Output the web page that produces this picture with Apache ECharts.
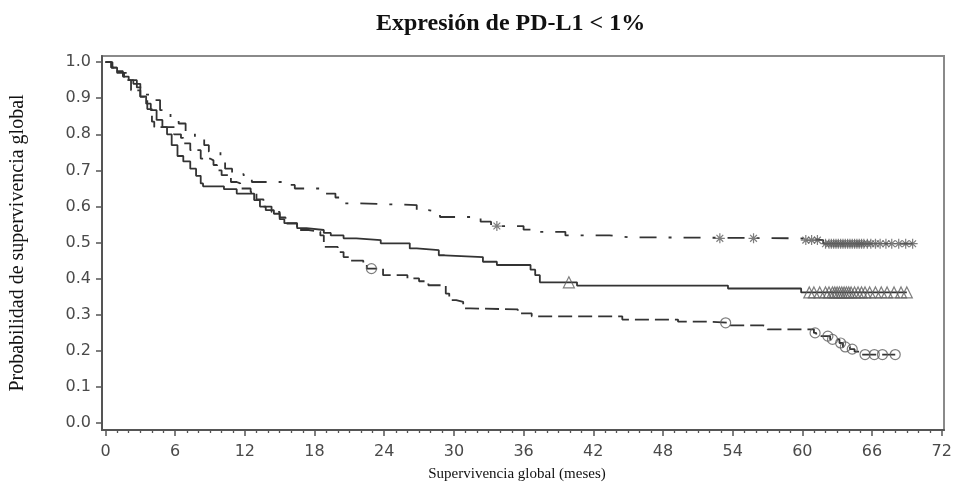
<!DOCTYPE html>
<html>
<head>
<meta charset="utf-8">
<script src="https://cdn.jsdelivr.net/npm/echarts@6/dist/echarts.min.js"></script>
<style>
  html, body { margin: 0; padding: 0; background: #fff; }
  #chart { width: 962px; height: 484px; }
</style>
</head>
<body>
<div id="chart"></div>
<script>
// Axis ticks
const xTickValues = [0, 6, 12, 18, 24, 30, 36, 42, 48, 54, 60, 66, 72];
const xMinorTickValues = [1,2,3,4,5,7,8,9,10,11,13,14,15,16,17,19,20,21,22,23,25,26,27,28,29,31,32,33,34,35,37,38,39,40,41,43,44,45,46,47,49,50,51,52,53,55,56,57,58,59,61,62,63,64,65,67,68,69,70,71];
const yTickValues = [0, 0.1, 0.2, 0.3, 0.4, 0.5, 0.6, 0.7, 0.8, 0.9, 1.0];

// Kaplan-Meier estimates: event times (months) and survival after each event
// Arm A: solid line, triangle censoring marks
const armATimes = [0, 0.5, 1.0, 1.5, 2.0, 2.4, 3.0, 3.5, 3.9, 4.4, 4.9, 5.3, 5.7, 6.2, 6.7, 7.3, 7.8, 8.2, 8.4, 10.2, 11.3, 12.8, 13.3, 13.8, 14.5, 15.0, 15.4, 16.5, 17.3, 18.8, 19.4, 20.5, 21.6, 23.7, 26.2, 26.8, 28.7, 29.2, 32.5, 33.7, 36.6, 37.0, 37.4, 40.6, 53.6, 59.9, 69.0];
const armASurv  = [1.0, 0.985, 0.975, 0.96, 0.95, 0.94, 0.905, 0.885, 0.867, 0.84, 0.82, 0.80, 0.77, 0.74, 0.725, 0.705, 0.685, 0.664, 0.656, 0.648, 0.636, 0.618, 0.60, 0.59, 0.58, 0.565, 0.554, 0.54, 0.535, 0.527, 0.52, 0.512, 0.507, 0.498, 0.484, 0.479, 0.465, 0.46, 0.447, 0.438, 0.425, 0.41, 0.39, 0.381, 0.373, 0.362, 0.362];
const armACensor = [39.9, 60.6, 61.0, 61.5, 62.0, 62.3, 62.6, 62.8, 63.0, 63.2, 63.4, 63.6, 63.8, 64.0, 64.2, 64.5, 64.8, 65.1, 65.4, 65.8, 66.3, 66.8, 67.3, 67.9, 68.5, 69.0];

// Arm B: dashed line, circle censoring marks
const armBTimes = [0, 0.5, 1.0, 1.6, 2.2, 3.0, 3.6, 4.0, 4.2, 5.9, 6.5, 6.7, 7.3, 8.2, 9.0, 9.3, 9.6, 10.0, 10.8, 11.3, 11.6, 12.5, 13.0, 13.6, 14.3, 15.0, 15.5, 16.5, 17.5, 18.5, 18.8, 20.0, 20.5, 21.1, 22.2, 22.5, 23.9, 26.0, 27.0, 27.8, 29.3, 29.6, 30.2, 30.8, 31.4, 35.5, 36.7, 44.5, 49.3, 52.0, 53.8, 56.6, 57.0, 61.0, 61.2, 62.4, 63.2, 63.5, 64.1, 64.5, 65.0, 68.0];
const armBSurv  = [1.0, 0.985, 0.97, 0.95, 0.922, 0.904, 0.87, 0.835, 0.82, 0.80, 0.79, 0.775, 0.756, 0.733, 0.728, 0.715, 0.70, 0.687, 0.668, 0.664, 0.65, 0.64, 0.62, 0.60, 0.585, 0.57, 0.553, 0.535, 0.53, 0.52, 0.488, 0.474, 0.46, 0.45, 0.443, 0.428, 0.41, 0.401, 0.393, 0.382, 0.359, 0.341, 0.336, 0.318, 0.315, 0.304, 0.296, 0.287, 0.281, 0.278, 0.271, 0.267, 0.26, 0.25, 0.241, 0.232, 0.222, 0.211, 0.205, 0.198, 0.19, 0.19];
const armBCensor = [22.9, 53.4, 61.1, 62.2, 62.6, 63.3, 63.7, 64.3, 65.4, 66.2, 66.9, 68.0];

// Arm C: dash-dot line, asterisk censoring marks
const armCTimes = [0, 0.6, 1.2, 2.0, 2.7, 3.3, 4.0, 4.7, 5.6, 6.3, 6.9, 7.7, 8.5, 8.9, 9.9, 10.3, 10.9, 11.9, 12.6, 15.3, 16.3, 18.8, 19.8, 20.5, 21.6, 26.8, 27.8, 28.8, 32.3, 33.2, 36.0, 37.0, 39.6, 43.4, 45.0, 59.8, 61.8, 69.5];
const armCSurv  = [1.0, 0.985, 0.97, 0.95, 0.93, 0.91, 0.895, 0.867, 0.845, 0.83, 0.807, 0.789, 0.77, 0.752, 0.733, 0.705, 0.69, 0.678, 0.668, 0.66, 0.65, 0.636, 0.625, 0.609, 0.604, 0.59, 0.585, 0.571, 0.558, 0.546, 0.536, 0.53, 0.52, 0.515, 0.512, 0.507, 0.497, 0.497];
const armCCensor = [33.7, 52.9, 55.8, 60.3, 60.8, 61.3, 62.0, 62.3, 62.5, 62.7, 62.9, 63.1, 63.3, 63.5, 63.7, 63.9, 64.1, 64.3, 64.5, 64.7, 64.9, 65.1, 65.3, 65.6, 65.9, 66.3, 66.7, 67.2, 67.7, 68.3, 68.9, 69.5];

const lineColor = '#333';
const markColor = '#5e5e5e';
const asteriskPath = 'path://M5,0L5,10M0,5L10,5M1.6,1.6L8.4,8.4M8.4,1.6L1.6,8.4';

function pairs(times, surv) {
  return times.map((t, i) => [t, surv[i]]);
}
// survival level in effect at time t (step function)
function survivalAt(times, surv, t) {
  let s = surv[0];
  for (let i = 0; i < times.length; i++) {
    if (times[i] <= t) s = surv[i]; else break;
  }
  return s;
}
function censorPoints(times, surv, censor) {
  return censor.map(t => [t, survivalAt(times, surv, t)]);
}

function curve(name, times, surv, dash) {
  return {
    name: name, type: 'line', step: 'end', showSymbol: false, symbol: 'none',
    xAxisIndex: 0, yAxisIndex: 0,
    data: pairs(times, surv),
    lineStyle: { color: lineColor, width: 1.8, type: dash },
    z: 3, silent: true
  };
}
function marks(name, times, surv, censor, symbol, size) {
  return {
    name: name, type: 'scatter', symbol: symbol, symbolSize: size,
    xAxisIndex: 0, yAxisIndex: 0,
    data: censorPoints(times, surv, censor),
    itemStyle: { color: 'rgba(0,0,0,0)', borderColor: markColor, borderWidth: 1.2 },
    z: 4, silent: true
  };
}

const tickFont = { fontFamily: 'DejaVu Sans', fontSize: 16, color: '#4a4a4a' };

const chart = echarts.init(document.getElementById('chart'), null, { renderer: 'canvas' });
chart.setOption({
  animation: false,
  backgroundColor: '#fff',
  title: {
    text: 'Expresión de PD-L1 < 1%',
    left: 371, top: 7,
    textStyle: { fontFamily: 'Liberation Serif', fontWeight: 'bold', fontSize: 24, color: '#111' }
  },
  grid: {
    left: 102, right: 18, top: 56, bottom: 54,
    outerBoundsMode: 'none', containLabel: false,
    show: true, borderColor: '#8a8a8a', borderWidth: 2, backgroundColor: '#fff'
  },
  xAxis: [
    {
      type: 'value', min: -0.3, max: 72.2, position: 'bottom',
      name: 'Supervivencia global (meses)', nameLocation: 'middle', nameGap: 37,
      nameTextStyle: { fontFamily: 'Liberation Serif', fontSize: 15, color: '#111', padding: [0, 12, 0, 0] },
      axisLine: { show: true, onZero: false, lineStyle: { color: '#555', width: 2 } },
      axisTick: { show: true, customValues: xTickValues, length: 6, lineStyle: { color: '#555', width: 1.5 } },
      axisLabel: Object.assign({ customValues: xTickValues, margin: 14 }, tickFont),
      splitLine: { show: false }
    },
    {
      type: 'value', min: -0.3, max: 72.2, position: 'bottom',
      axisLine: { show: false, onZero: false },
      axisTick: { show: true, customValues: xMinorTickValues, length: 3, lineStyle: { color: '#555', width: 1.3 } },
      axisLabel: { show: false },
      splitLine: { show: false }
    }
  ],
  yAxis: {
    type: 'value', min: -0.019, max: 1.017,
    name: 'Probabilidad de supervivencia global', nameLocation: 'middle', nameGap: 74, nameRotate: 90,
    nameTextStyle: { fontFamily: 'Liberation Serif', fontSize: 20, color: '#111' },
    axisLine: { show: true, onZero: false, lineStyle: { color: '#555', width: 2 } },
    axisTick: { show: true, customValues: yTickValues, length: 6, lineStyle: { color: '#555', width: 1.5 } },
    axisLabel: Object.assign({ customValues: yTickValues, margin: 11, formatter: v => v.toFixed(1) }, tickFont),
    splitLine: { show: false }
  },
  series: [
    curve('Brazo A', armATimes, armASurv, 'solid'),
    curve('Brazo B', armBTimes, armBSurv, [14, 6]),
    curve('Brazo C', armCTimes, armCSurv, [17, 12, 3, 12]),
    marks('Brazo A censurado', armATimes, armASurv, armACensor, 'triangle', 11),
    marks('Brazo B censurado', armBTimes, armBSurv, armBCensor, 'circle', 10),
    marks('Brazo C censurado', armCTimes, armCSurv, armCCensor, asteriskPath, 10)
  ]
});
</script>
</body>
</html>
